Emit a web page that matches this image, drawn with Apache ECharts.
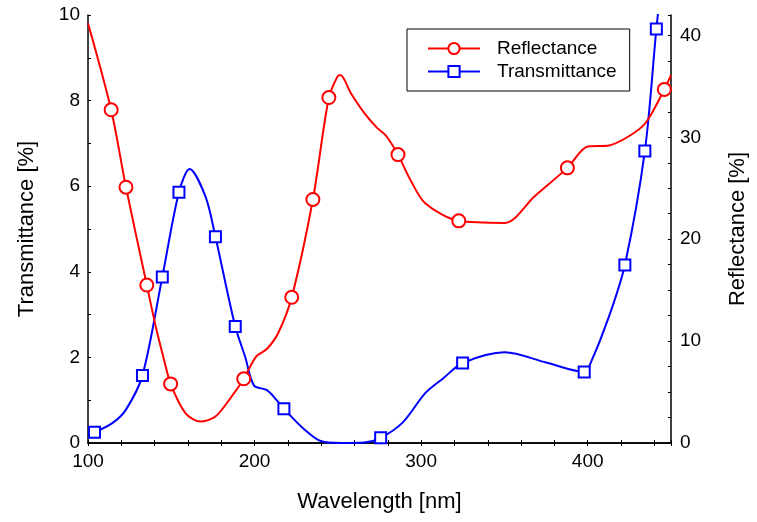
<!DOCTYPE html>
<html>
<head>
<meta charset="utf-8">
<script src="https://cdn.jsdelivr.net/npm/echarts@6/dist/echarts.min.js"></script>
<style>
  html, body { margin: 0; padding: 0; background: #fff; }
  #chart { width: 757px; height: 522px; }
</style>
</head>
<body>
<div id="chart"></div>
<script>
// Reflectance curve [wavelength nm, %] (right axis)
const reflCurve = [
    [100, 41.2], [113.9, 32.7], [122.8, 25.1], [135.3, 15.5], [140.7, 11.4],
    [145.6, 8.2], [149.6, 5.8], [158.6, 2.9], [167.5, 2.1], [176.5, 2.6],
    [186.4, 4.6], [193.5, 6.3], [201, 8.5], [207.2, 9.2], [214.2, 10.8],
    [222.3, 14.3], [235, 23.9], [244.6, 33.9], [249.9, 36.0], [251.5, 36.1],
    [257.9, 34.3], [265.8, 32.4], [273.7, 30.9], [278.7, 30.2], [286.1, 28.3],
    [293.6, 25.8], [302.6, 23.5], [322.6, 21.8], [350.2, 21.6], [368, 24.2],
    [387.8, 27.0], [400, 29.1], [412.8, 29.2], [424.7, 30.1], [434.7, 31.4],
    [446, 34.7], [450, 36.1]
];
const reflMarkers = [
    [113.9, 32.7], [122.8, 25.1], [135.3, 15.5], [149.6, 5.8], [193.5, 6.3],
    [222.3, 14.3], [235, 23.9], [244.6, 33.9], [286.1, 28.3], [322.6, 21.8],
    [387.8, 27.0], [446, 34.7]
];

// Transmittance curve [wavelength nm, %] (left axis)
const transCurve = [
    [100, 0.22], [103.9, 0.25], [114.8, 0.47], [122.8, 0.78], [132.7, 1.58],
    [144.6, 3.88], [154.6, 5.86], [161, 6.40], [170.5, 5.76], [176.5, 4.82],
    [188.4, 2.72], [194.3, 2.02], [199.7, 1.34], [207.2, 1.24],
    [212.2, 1.05], [217.6, 0.80], [230.1, 0.31], [240, 0.04], [251.9, 0.0],
    [265.8, 0.01], [275.7, 0.12], [288.7, 0.47], [302.6, 1.17], [313.5, 1.52],
    [324.9, 1.87], [350.2, 2.12], [375, 1.88], [397.9, 1.66], [400.9, 1.79],
    [412.8, 2.96], [422.3, 4.16], [434.3, 6.82], [441.2, 9.67], [443, 10.3]
];
const transMarkers = [
    [103.9, 0.25], [132.7, 1.58], [144.6, 3.88], [154.6, 5.86], [176.5, 4.82],
    [188.4, 2.72], [217.6, 0.80], [275.7, 0.12], [324.9, 1.87], [397.9, 1.66],
    [422.3, 4.16], [434.3, 6.82], [441.2, 9.67]
];

const FONT = "'Liberation Sans', Arial, sans-serif";
const RED = '#ff0000';
const BLUE = '#0000ff';

const chart = echarts.init(document.getElementById('chart'));

const frameLine = { show: true, lineStyle: { color: '#000', width: 1.5 } };
const smallTick = { show: true, inside: true, length: 3, lineStyle: { color: '#000', width: 1 } };

const option = {
    backgroundColor: '#fff',
    animation: false,
    textStyle: { fontFamily: FONT },
    grid: { left: 88, right: 81, top: 15, bottom: 79 },
    legend: {
        data: ['Reflectance', 'Transmittance'],
        orient: 'vertical',
        left: 407,
        top: 29,
        itemWidth: 52,
        itemHeight: 14,
        itemGap: 4,
        padding: [10, 13, 10, 20],
        borderColor: '#000',
        borderWidth: 1,
        textStyle: { fontSize: 19, color: '#000', fontFamily: FONT, padding: [0, 0, 0, 12] }
    },
    xAxis: [
        {
            type: 'value',
            min: 100,
            max: 450,
            interval: 20,
            position: 'bottom',
            name: 'Wavelength [nm]',
            nameLocation: 'middle',
            nameGap: 48,
            nameTextStyle: { fontSize: 22, color: '#000', fontFamily: FONT },
            axisLine: frameLine,
            axisTick: smallTick,
            splitLine: { show: false },
            axisLabel: {
                fontSize: 19,
                color: '#000',
                margin: 9,
                formatter: v => (v % 100 === 0 ? String(v) : '')
            }
        },
        {
            type: 'value',
            min: 100,
            max: 450,
            interval: 20,
            position: 'top',
            axisLine: frameLine,
            axisTick: smallTick,
            splitLine: { show: false },
            axisLabel: { show: false }
        }
    ],
    yAxis: [
        {
            type: 'value',
            min: 0,
            max: 10,
            interval: 1,
            position: 'left',
            name: 'Transmittance [%]',
            nameLocation: 'middle',
            nameRotate: 90,
            nameGap: 50,
            nameTextStyle: { fontSize: 22, color: '#000', fontFamily: FONT },
            axisLine: frameLine,
            axisTick: smallTick,
            splitLine: { show: false },
            axisLabel: {
                fontSize: 19,
                color: '#000',
                margin: 8,
                formatter: v => (v % 2 === 0 ? String(v) : '')
            }
        },
        {
            type: 'value',
            min: 0,
            max: 42,
            interval: 2.5,
            position: 'right',
            name: 'Reflectance [%]',
            nameLocation: 'middle',
            nameRotate: 90,
            nameGap: 56,
            nameTextStyle: { fontSize: 22, color: '#000', fontFamily: FONT },
            axisLine: frameLine,
            axisTick: smallTick,
            splitLine: { show: false },
            axisLabel: {
                fontSize: 19,
                color: '#000',
                margin: 9,
                formatter: v => (v % 10 === 0 ? String(v) : '')
            }
        }
    ],
    series: [
        {
            name: 'Transmittance',
            type: 'line',
            xAxisIndex: 0,
            yAxisIndex: 0,
            data: transCurve,
            smooth: 0.3,
            symbol: 'emptyRect',
            showSymbol: false,
            lineStyle: { color: BLUE, width: 2 },
            itemStyle: { color: BLUE },
            silent: true,
            z: 2
        },
        {
            name: 'Reflectance',
            type: 'line',
            xAxisIndex: 0,
            yAxisIndex: 1,
            data: reflCurve,
            smooth: 0.3,
            symbol: 'emptyCircle',
            showSymbol: false,
            lineStyle: { color: RED, width: 2 },
            itemStyle: { color: RED },
            silent: true,
            z: 3
        },
        {
            name: 'Transmittance markers',
            type: 'scatter',
            xAxisIndex: 0,
            yAxisIndex: 0,
            data: transMarkers,
            symbol: 'rect',
            symbolSize: 11,
            itemStyle: { color: '#fff', borderColor: BLUE, borderWidth: 2, opacity: 1 },
            z: 4
        },
        {
            name: 'Reflectance markers',
            type: 'scatter',
            xAxisIndex: 0,
            yAxisIndex: 1,
            data: reflMarkers,
            symbol: 'circle',
            symbolSize: 13,
            itemStyle: { color: '#fff', borderColor: RED, borderWidth: 2, opacity: 1 },
            z: 5
        }
    ]
};

chart.setOption(option);
</script>
</body>
</html>
